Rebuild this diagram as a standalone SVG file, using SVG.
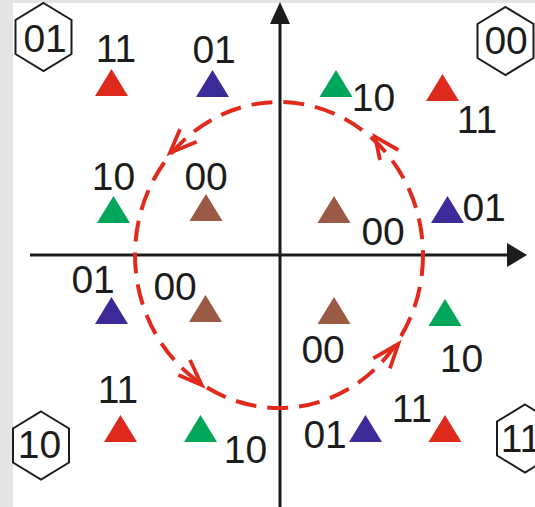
<svg xmlns="http://www.w3.org/2000/svg" width="535" height="507" viewBox="0 0 535 507">
<defs>
<style>
.lbl{font-family:"Liberation Sans",Arial,sans-serif;font-size:39px;fill:#1c1c1c}
.hex{fill:none;stroke:#1c1c1c;stroke-width:2}
.axis{stroke:#1c1c1c;stroke-width:3;fill:none}
.orbit{fill:none;stroke:#e02a1d;stroke-width:4;stroke-dasharray:21 11}
.chev{fill:none;stroke:#e02a1d;stroke-width:3.8;stroke-linecap:butt;stroke-linejoin:miter}
.r{fill:#de2a1c}.b{fill:#3b2b98}.g{fill:#00a659}.n{fill:#9b5a44}
</style>
<path id="tri" d="M-16.5,0 L0,-27 L16.5,0 Z"/>
<path id="hx" d="M0,-34 L28,-17 L28,17 L0,34 L-28,17 L-28,-17 Z"/>
</defs>
<rect x="0" y="0" width="535" height="507" fill="#e4e4e4"/>
<rect x="13" y="3" width="522" height="504" fill="#ffffff"/>

<g id="connectors">
<line class="axis" x1="30" y1="255" x2="510" y2="255"/>
<path d="M527,255 L507,243 L507,267 Z" fill="#1c1c1c"/>
<line class="axis" x1="280" y1="507" x2="280" y2="20"/>
<path d="M280,2 L270,24 L290,24 Z" fill="#1c1c1c"/>
<ellipse class="orbit" cx="279" cy="255" rx="144" ry="153"/>
<path class="chev" d="M180,129.3 L170,152.7 L196.7,141.7"/>
<path class="chev" d="M380,160 L375,136.7 L398.3,150"/>
<path class="chev" d="M178.3,375 L201.7,385 L190,360"/>
<path class="chev" d="M373.3,358.3 L398.3,344 L390,368.3"/>
</g>

<g id="hex-01"><use href="#hx" x="43.5" y="37" class="hex"/><text class="lbl" x="23.4" y="52">01</text></g>
<g id="hex-00"><use href="#hx" x="505.5" y="41" class="hex"/><text class="lbl" x="484.4" y="54">00</text></g>
<g id="hex-10"><use href="#hx" x="41" y="445.5" class="hex"/><text class="lbl" x="17.7" y="458">10</text></g>
<g id="hex-11"><use href="#hx" x="525" y="438.5" class="hex"/><text class="lbl" x="500.7" y="452">11</text></g>

<g id="p1"><use href="#tri" x="111.5" y="96" class="r"/><text class="lbl" x="95.7" y="62">11</text></g>
<g id="p2"><use href="#tri" x="212.5" y="97" class="b"/><text class="lbl" x="192.4" y="63">01</text></g>
<g id="p3"><use href="#tri" x="336" y="97" class="g"/><text class="lbl" x="351.7" y="111">10</text></g>
<g id="p4"><use href="#tri" x="442.5" y="101" class="r"/><text class="lbl" x="456.7" y="133">11</text></g>
<g id="p5"><use href="#tri" x="113.5" y="223" class="g"/><text class="lbl" x="91.7" y="190">10</text></g>
<g id="p6"><use href="#tri" x="206" y="221" class="n"/><text class="lbl" x="184.4" y="190">00</text></g>
<g id="p7"><use href="#tri" x="334" y="223" class="n"/><text class="lbl" x="361.4" y="245">00</text></g>
<g id="p8"><use href="#tri" x="447.5" y="223" class="b"/><text class="lbl" x="462.4" y="221">01</text></g>
<g id="p9"><use href="#tri" x="111.5" y="324" class="b"/><text class="lbl" x="71.4" y="293">01</text></g>
<g id="p10"><use href="#tri" x="205.5" y="322" class="n"/><text class="lbl" x="153.4" y="300">00</text></g>
<g id="p11"><use href="#tri" x="334" y="324" class="n"/><text class="lbl" x="301.4" y="363">00</text></g>
<g id="p12"><use href="#tri" x="445" y="326" class="g"/><text class="lbl" x="439.7" y="372">10</text></g>
<g id="p13"><use href="#tri" x="120.5" y="442" class="r"/><text class="lbl" x="97.7" y="403">11</text></g>
<g id="p14"><use href="#tri" x="200.5" y="442" class="g"/><text class="lbl" x="223.7" y="463">10</text></g>
<g id="p15"><use href="#tri" x="365.5" y="442" class="b"/><text class="lbl" x="303.4" y="448">01</text></g>
<g id="p16"><use href="#tri" x="445" y="442" class="r"/><text class="lbl" x="391.7" y="422">11</text></g>
</svg>
